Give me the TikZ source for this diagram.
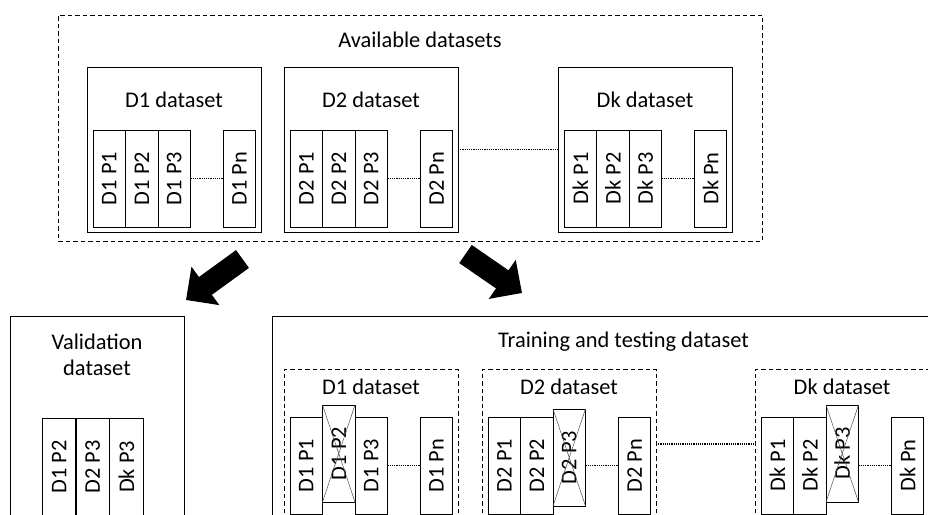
\documentclass[tikz,border=0pt]{standalone}
\usepackage{fontspec}
\setmainfont{Carlito}
\usetikzlibrary{arrows.meta}
\begin{document}
\begin{tikzpicture}[x=1pt,y=-1pt,font=\fontsize{22.4}{26.5}\selectfont,
  box/.style={draw,line width=1pt,inner sep=0pt,outer sep=0pt},
  dbox/.style={box,dash pattern=on 4.5pt off 3pt},
  part/.style={draw,line width=1pt,rotate=90,minimum width=97pt,minimum height=32.5pt,inner sep=0pt,outer sep=0pt},
  gap/.style={line width=1.3pt,dash pattern=on 1.2pt off 1pt},
  cross/.style={line width=0.5pt,black!70},
  bigarrow/.style={line width=22pt,-{Triangle[length=24pt,width=46pt]}}]
\clip (0,0) rectangle (928,514);
% Available datasets
\node[dbox,minimum width=704pt,minimum height=226pt] (avail) at (410,128) {};
\node (availtitle) at (420,40) {Available datasets};
\foreach \g/\x in {1/87,2/284,k/558}{
  \node[box,minimum width=174pt,minimum height=165pt] (d\g) at (\x+87,149.5) {};
  \node (d\g title) at (\x+87,100) {D\g{} dataset};
  \foreach \p/\dx in {1/22.25,2/54.75,3/87.25,n/152.5}
    \node[part] (d\g p\p) at (\x+\dx,178.5) {D\g{} P\p};
  \draw[gap] (d\g p3.south) -- (d\g pn.north);
}
\draw[gap] (d2.east) -- (dk.west);
% Arrows
\coordinate (la) at (242.5,259);
\coordinate (lb) at (186,300);
\coordinate (ra) at (465.5,254);
\coordinate (rb) at (522,293);
\draw[bigarrow] (la) -- (lb);
\draw[bigarrow] (ra) -- (rb);
% Validation dataset
\node[box,minimum width=174pt,minimum height=230pt] (valid) at (97,431) {};
\node[align=center] (validtitle) at (97,355) {Validation\\dataset};
\foreach \v/\dx/\t in {1/59/D1 P2,2/92.75/D2 P3,3/126.5/Dk P3}
  \node[part,minimum height=33.5pt] (v\v) at (\dx,467) {\t};
% Training and testing dataset
\node[box,minimum width=680pt,minimum height=230pt] (train) at (612,431) {};
\node (traintitle) at (623.5,342) {Training and testing dataset};
\foreach \g/\x/\keep/\cut/\cdx/\cy in {1/284/{1/22.25,3/87.25,n/152.5}/2/54.75/453.5,
    2/482/{1/22.25,2/54.75,n/152.5}/3/87.25/457.5,
    k/755/{1/22.25,2/54.75,n/152.5}/3/87.25/453.5}{
  \node[dbox,minimum width=174pt,minimum height=150pt] (t\g) at (\x+87,444) {};
  \node (t\g title) at (\x+87,387) {D\g{} dataset};
  \foreach \p/\dx in \keep
    \node[part] (t\g p\p) at (\x+\dx,465.5) {D\g{} P\p};
  \node[part] (t\g p\cut) at (\x+\cdx,\cy) {D\g{} P\cut};
  \draw[cross] (t\g p\cut.north west) -- (t\g p\cut.south east)
    (t\g p\cut.north east) -- (t\g p\cut.south west);
  \draw[gap] (t\g p3.south |- t\g pn.center) -- (t\g pn.north);
}
\draw[gap] (t2.east) -- (tk.west);
\end{tikzpicture}
\end{document}
